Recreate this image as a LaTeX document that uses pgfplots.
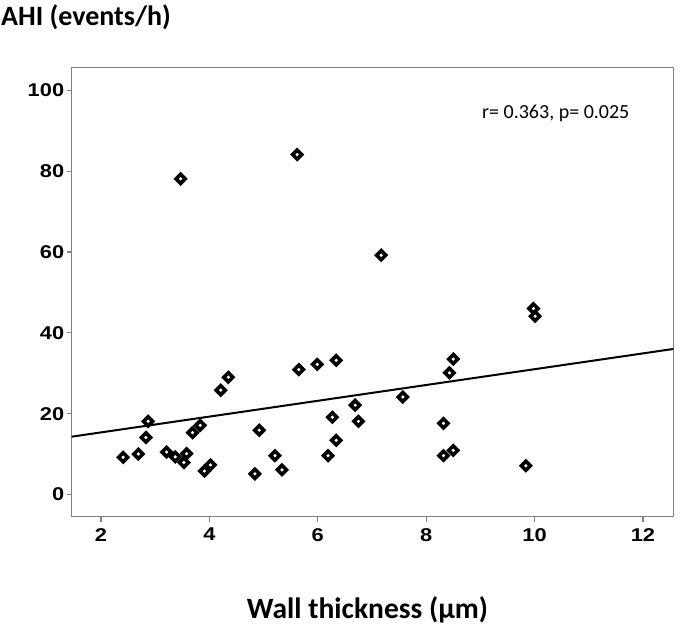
\documentclass[border=0pt]{standalone}
\usepackage{pgfplots}
\pgfplotsset{compat=1.18}
\usepackage{fontspec}
\setmainfont{Carlito}
\newfontfamily\tickf[FakeStretch=1.18]{Liberation Sans}
\definecolor{axgray}{RGB}{128,128,128}
\begin{document}
\begin{tikzpicture}[x=1pt,y=1pt]
\useasboundingbox (0,0) rectangle (680,628);
\begin{axis}[
  at={(71.7pt,111.3pt)}, anchor=south west,
  scale only axis, width=601.6pt, height=449.4pt,
  xmin=1.46, xmax=12.56, ymin=-5.5, ymax=105.7,
  xtick={2,4,6,8,10,12}, ytick={0,20,40,60,80,100},
  tick pos=left,
  tick align=outside, major tick length=5pt,
  tick style={axgray, line width=1.2pt},
  axis line style={axgray, line width=1.2pt},
  x tick label style={font=\tickf\bfseries\fontsize{18.5}{18.5}\selectfont, yshift=-3pt},
  y tick label style={font=\tickf\bfseries\fontsize{18.5}{18.5}\selectfont, xshift=1pt},
  /pgf/number format/assume math mode=true,
  clip=false,
]
\addplot[only marks, mark=square*, mark size=3.2pt,
  mark options={rotate=45, draw=black, fill=white, line width=3.6pt}]
coordinates {
(2.41,9.2) (2.69,10.0) (2.83,14.1) (2.87,18.1) (3.21,10.5) (3.37,9.3)
(3.53,7.9) (3.58,10.1) (3.69,15.3) (3.83,17.1) (3.91,5.8) (4.02,7.3)
(4.21,25.8) (4.35,29.0) (4.84,5.1) (4.92,15.9) (5.21,9.6) (5.34,6.1)
(5.65,30.9) (5.99,32.2) (6.34,33.2) (6.19,9.6) (6.27,19.1) (6.34,13.4)
(6.69,22.1) (6.75,18.1) (3.47,78.1) (5.62,84.1) (7.17,59.2)
(7.57,24.1) (8.32,17.6) (8.32,9.6) (8.50,10.9) (8.43,30.1) (8.50,33.5)
(9.84,7.1) (9.98,46.0) (10.01,44.1)
};
\addplot[black, line width=2pt, no marks] coordinates {(1.46,14.3) (12.56,36.0)};
\end{axis}
\node[anchor=base west, inner sep=0pt, font=\bfseries\fontsize{28}{28}\selectfont] at (1,602) {AHI (events/h)};
\node[anchor=base, inner sep=0pt, font=\bfseries\fontsize{29.5}{29.5}\selectfont] at (367.5,9) {Wall thickness (µm)};
\node[anchor=base west, inner sep=0pt, font=\fontsize{20}{20}\selectfont] at (482,509.7) {r= 0.363, p= 0.025};
\end{tikzpicture}
\end{document}
